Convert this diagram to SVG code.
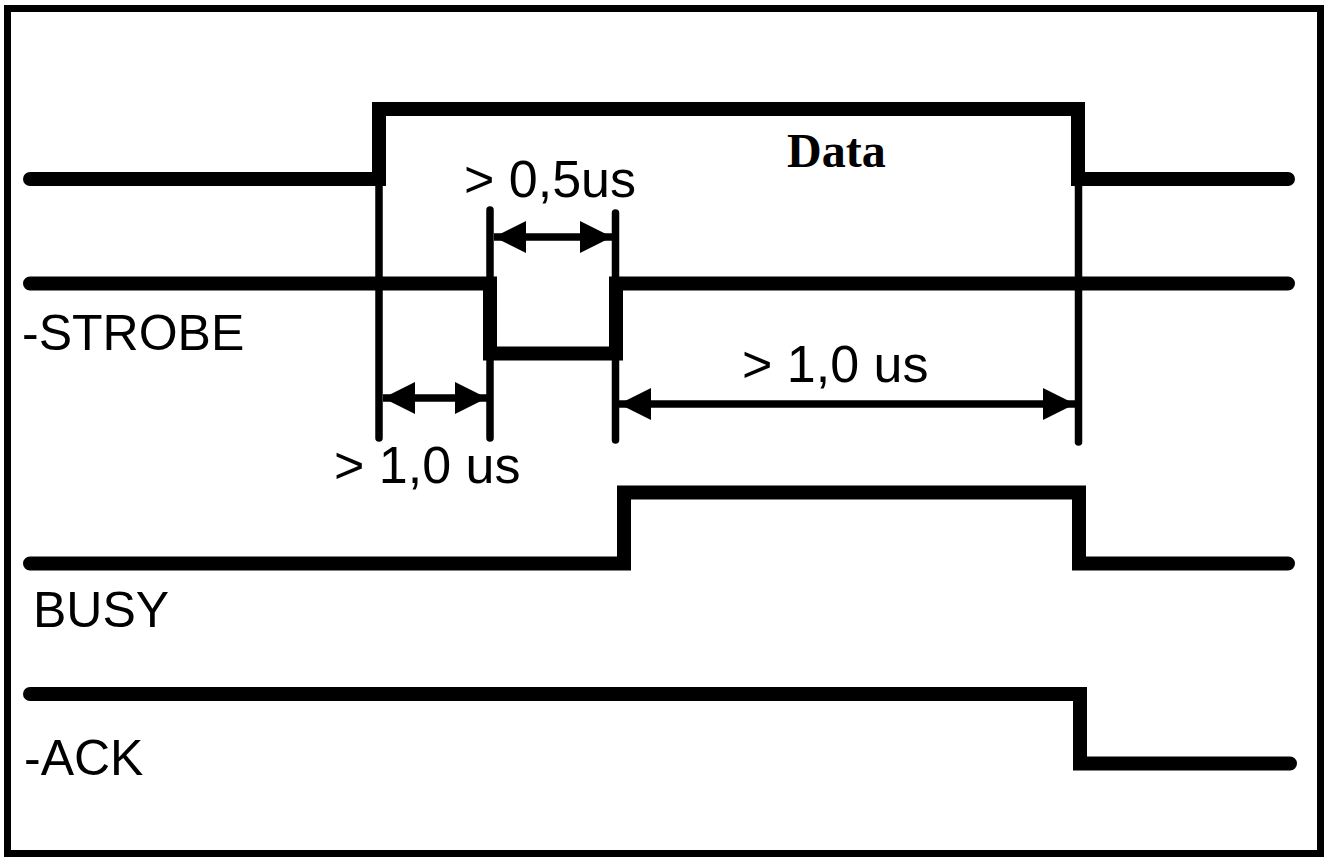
<svg xmlns="http://www.w3.org/2000/svg" width="1329" height="857" viewBox="0 0 1329 857">
<style>
.frame{fill:none;stroke:#000;stroke-width:7}
.sig{fill:none;stroke:#000;stroke-width:14;stroke-linecap:round;stroke-linejoin:miter}
.guide{fill:none;stroke:#000;stroke-width:7.5;stroke-linecap:round}
.dim{fill:none;stroke:#000;stroke-width:7.5}
.lbl{font-family:"Liberation Sans",Arial,sans-serif;font-size:50px;fill:#000}
.dlbl{font-family:"Liberation Sans",Arial,sans-serif;font-size:52px;fill:#000}
.data{font-family:"Liberation Serif","Times New Roman",serif;font-size:48px;font-weight:bold;fill:#000}
</style>
<defs>
<marker id="ah" markerUnits="userSpaceOnUse" markerWidth="34" markerHeight="34" refX="32" refY="16" orient="auto-start-reverse" viewBox="0 0 34 34">
<path d="M0 0 L32 16 L0 32 Z" fill="#000"/>
</marker>
</defs>
<rect width="1329" height="857" fill="#fff"/>
<rect class="frame" x="7.5" y="8.5" width="1313" height="845"/>
<g id="data">
<path class="sig" d="M30 179 H379 V109 H1078 V179 H1288"/>
<text class="data" x="787" y="167">Data</text>
</g>
<g id="strobe">
<path class="sig" d="M30 283.5 H490 V353.5 H616 V283.5 H1288"/>
<text class="lbl" x="22" y="350">-STROBE</text>
</g>
<g id="busy">
<path class="sig" d="M30 563.5 H624 V492.5 H1079 V563.5 H1288"/>
<text class="lbl" x="33" y="627">BUSY</text>
</g>
<g id="ack">
<path class="sig" d="M30 694 H1080 V763.5 H1290"/>
<text class="lbl" x="24" y="775">-ACK</text>
</g>
<g id="connectors">
<line class="guide" x1="379" y1="179" x2="379" y2="438"/>
<line class="guide" x1="490" y1="210" x2="490" y2="438"/>
<line class="guide" x1="615.5" y1="213" x2="615.5" y2="440"/>
<line class="guide" x1="1078.5" y1="179" x2="1078.5" y2="442"/>
<line class="dim" x1="494" y1="237" x2="612" y2="237" marker-start="url(#ah)" marker-end="url(#ah)"/>
<line class="dim" x1="383" y1="398" x2="487" y2="398" marker-start="url(#ah)" marker-end="url(#ah)"/>
<line class="dim" x1="619" y1="404" x2="1075" y2="404" marker-start="url(#ah)" marker-end="url(#ah)"/>
<text class="dlbl" x="464" y="197">&gt; 0,5us</text>
<text class="dlbl" x="742" y="382">&gt; 1,0 us</text>
<text class="dlbl" x="334" y="483">&gt; 1,0 us</text>
</g>
</svg>
